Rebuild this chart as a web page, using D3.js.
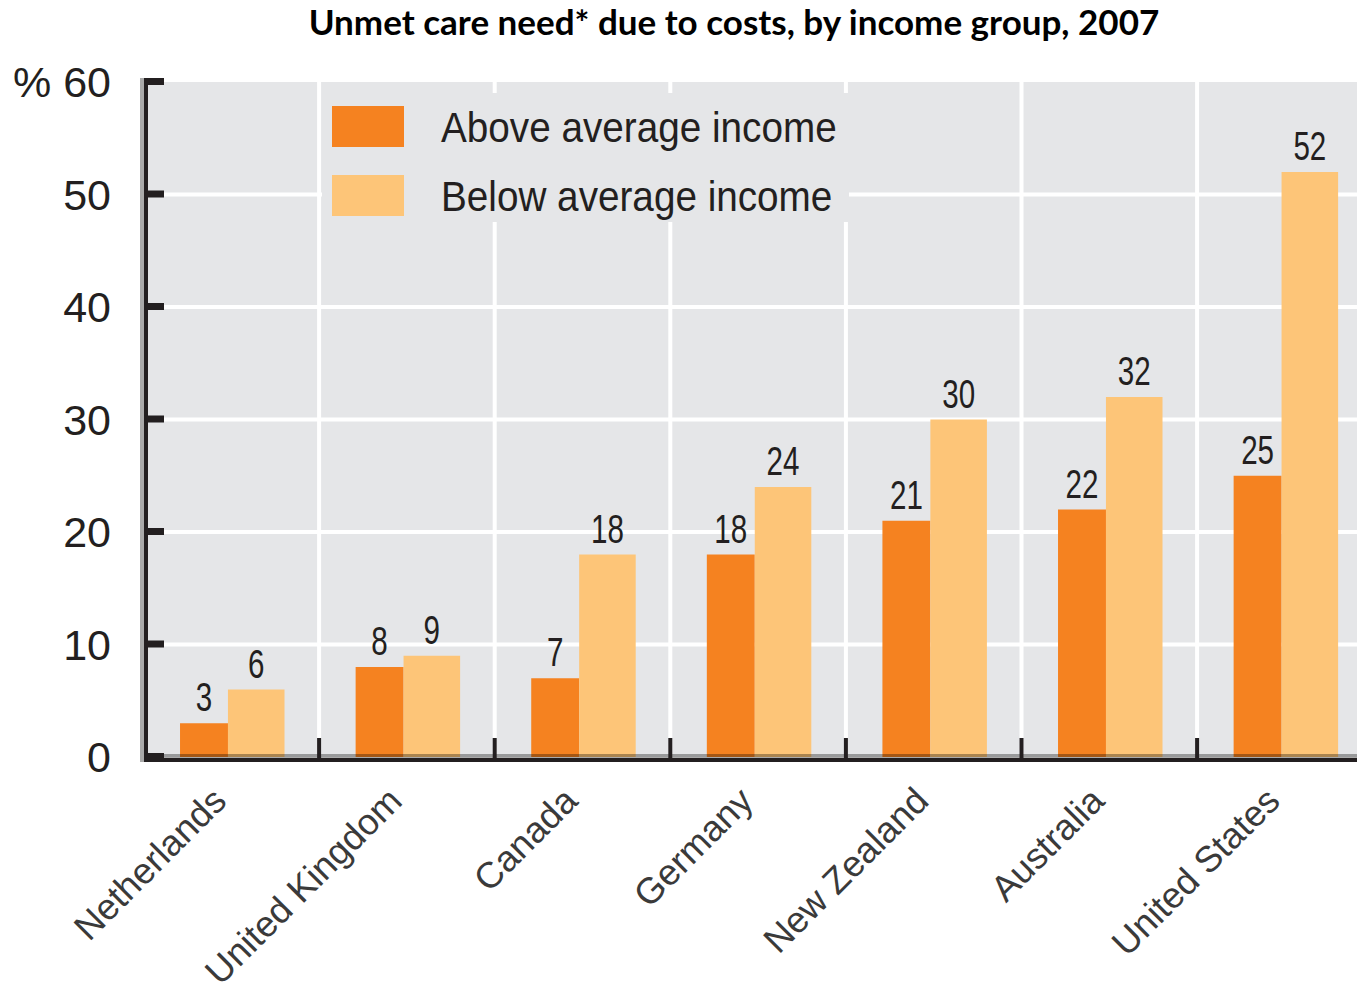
<!DOCTYPE html>
<html>
<head>
<meta charset="utf-8">
<script src="https://cdn.jsdelivr.net/npm/d3@7"></script>
<style>
  html, body { margin: 0; padding: 0; background: #ffffff; }
  svg { display: block; }
</style>
</head>
<body>
<svg id="chart" width="1357" height="1001"></svg>
<script>
// Unmet care need due to costs, by income group, 2007
const countries = ["Netherlands", "United Kingdom", "Canada", "Germany", "New Zealand", "Australia", "United States"];
const aboveAverage = [3, 8, 7, 18, 21, 22, 25];
const belowAverage = [6, 9, 18, 24, 30, 32, 52];
const seriesNames = ["Above average income", "Below average income"];
const yTicks = [0, 10, 20, 30, 40, 50, 60];

const colAbove = "#f58220";
const colBelow = "#fdc578";
const plotBg = "#e5e6e8";
const ink = "#231f20";

const svg = d3.select("#chart");
const W = 1357;

const x = d3.scaleBand().domain(countries).range([143.5, 143.5 + 7 * 175.6]).padding(0);
const y = d3.scaleLinear().domain([0, 60]).range([757, 82]);
const bw = x.bandwidth();

// title
svg.append("text")
  .attr("x", 734).attr("y", 35)
  .attr("text-anchor", "middle")
  .attr("font-family", "Lato, 'Open Sans', sans-serif")
  .attr("font-weight", 700)
  .attr("font-size", 35)
  .attr("fill", "#000")
  .text("Unmet care need* due to costs, by income group, 2007");

// plot background
svg.append("rect")
  .attr("x", 148).attr("y", y(60))
  .attr("width", W - 148).attr("height", y(0) - y(60))
  .attr("fill", plotBg);

// horizontal grid
svg.append("g").selectAll("rect")
  .data(yTicks.filter(v => v > 0 && v < 60))
  .join("rect")
  .attr("x", 148).attr("y", d => y(d) - 2)
  .attr("width", W - 148).attr("height", 4)
  .attr("fill", "#fff");

// vertical grid between countries
svg.append("g").selectAll("rect")
  .data(countries.slice(1))
  .join("rect")
  .attr("x", d => x(d) - 2).attr("y", y(60))
  .attr("width", 4).attr("height", y(0) - y(60))
  .attr("fill", "#fff");

// bars
const groups = svg.append("g").selectAll("g")
  .data(countries.map((c, i) => ({ c, a: aboveAverage[i], b: belowAverage[i] })))
  .join("g");

groups.append("rect")
  .attr("x", d => x(d.c) + bw * 0.208).attr("width", bw * 0.273)
  .attr("y", d => y(d.a)).attr("height", d => y(0) - y(d.a))
  .attr("fill", colAbove);

groups.append("rect")
  .attr("x", d => x(d.c) + bw * 0.481).attr("width", bw * 0.322)
  .attr("y", d => y(d.b)).attr("height", d => y(0) - y(d.b))
  .attr("fill", colBelow);

// value labels
const valueLabel = (sel, xOff, key) => sel.append("text")
  .attr("transform", d => `translate(${x(d.c) + bw * xOff},${y(d[key]) - 12}) scale(0.74,1)`)
  .attr("text-anchor", "middle")
  .attr("font-family", "'Liberation Sans', Arial, sans-serif")
  .attr("font-size", 40)
  .attr("fill", ink)
  .text(d => d[key]);
valueLabel(groups, 0.208 + 0.273 / 2, "a");
valueLabel(groups, 0.481 + 0.322 / 2, "b");

// legend
const legend = svg.append("g");
legend.append("rect")
  .attr("x", 322).attr("y", 93).attr("width", 527).attr("height", 129)
  .attr("fill", plotBg);
[colAbove, colBelow].forEach((col, i) => {
  legend.append("rect")
    .attr("x", 332).attr("y", 106 + i * 69).attr("width", 72).attr("height", 41)
    .attr("fill", col);
  legend.append("text")
    .attr("transform", `translate(441,${142 + i * 69}) scale(0.9,1)`)
    .attr("font-family", "'Liberation Sans', Arial, sans-serif")
    .attr("font-size", 43)
    .attr("fill", ink)
    .text(seriesNames[i]);
});

// bottom shadow band and x axis line
svg.append("rect")
  .attr("x", 148).attr("y", y(0) - 3).attr("width", W - 148).attr("height", 4)
  .attr("fill", "#000").attr("opacity", 0.33);
svg.append("rect")
  .attr("x", 144).attr("y", y(0) + 1).attr("width", W - 144).attr("height", 4)
  .attr("fill", ink);

// x ticks (group separators)
svg.append("g").selectAll("rect")
  .data(countries.slice(1))
  .join("rect")
  .attr("x", d => x(d) - 2).attr("y", y(0) - 19)
  .attr("width", 4).attr("height", 20)
  .attr("fill", ink);

// y axis shadow and line
svg.append("rect")
  .attr("x", 140).attr("y", y(60) - 4).attr("width", 4).attr("height", y(0) - y(60) + 9)
  .attr("fill", "#aaa");
svg.append("rect")
  .attr("x", 144).attr("y", y(60) - 4).attr("width", 4).attr("height", y(0) - y(60) + 9)
  .attr("fill", ink);

// y ticks
svg.append("g").selectAll("rect")
  .data(yTicks)
  .join("rect")
  .attr("x", 144).attr("y", d => y(d) - 4)
  .attr("width", 20).attr("height", 7)
  .attr("fill", ink);

// y tick labels
svg.append("g").selectAll("text")
  .data(yTicks)
  .join("text")
  .attr("x", 111).attr("y", d => y(d) + 15)
  .attr("text-anchor", "end")
  .attr("font-family", "'Liberation Sans', Arial, sans-serif")
  .attr("font-size", 43)
  .attr("fill", ink)
  .text(d => d === 60 ? "% 60" : d);

// x labels
svg.append("g").selectAll("text")
  .data(countries)
  .join("text")
  .attr("transform", d => `translate(${x(d) + bw / 2 - 3},803) rotate(-45)`)
  .attr("text-anchor", "end")
  .attr("font-family", "'Liberation Sans', Arial, sans-serif")
  .attr("font-size", 36.5)
  .attr("fill", "#3a3a3a")
  .text(d => d);
</script>
</body>
</html>
